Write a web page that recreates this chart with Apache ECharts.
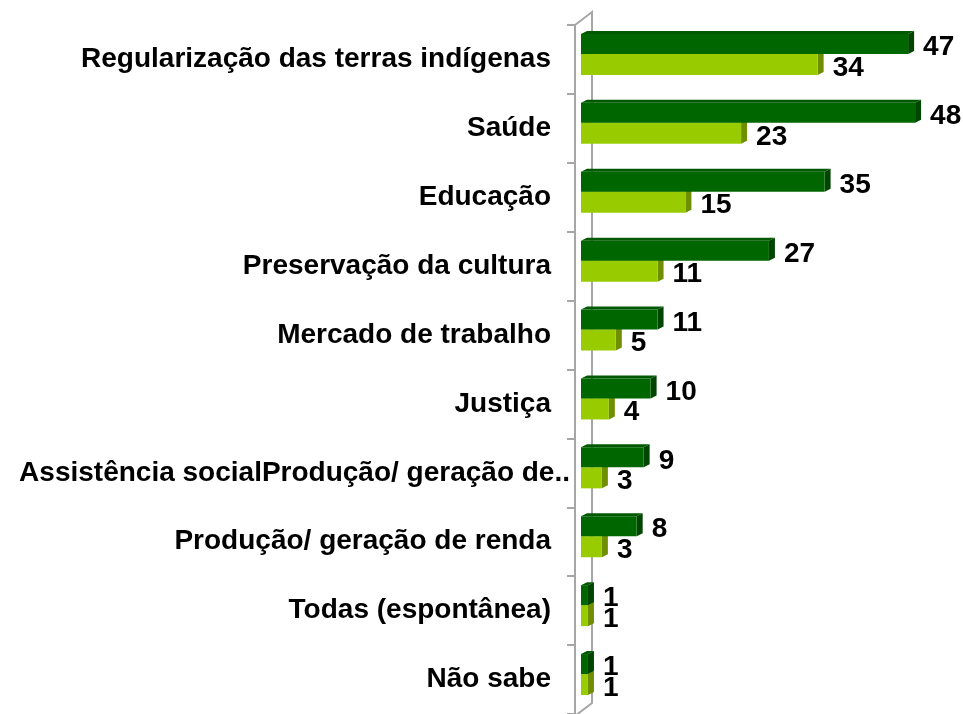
<!DOCTYPE html>
<html>
<head>
<meta charset="utf-8">
<script src="https://cdn.jsdelivr.net/npm/echarts@6/dist/echarts.min.js"></script>
<style>
  html, body { margin: 0; padding: 0; background: #fff; }
  #chart { width: 963px; height: 714px; }
</style>
</head>
<body>
<div id="chart"></div>
<script>
const categories = [
  "Regularização das terras indígenas",
  "Saúde",
  "Educação",
  "Preservação da cultura",
  "Mercado de trabalho",
  "Justiça",
  "Assistência socialProdução/ geração de..",
  "Produção/ geração de renda",
  "Todas (espontânea)",
  "Não sabe"
];
const darkValues = [47, 48, 35, 27, 11, 10, 9, 8, 1, 1];
const lightValues = [34, 23, 15, 11, 5, 4, 3, 3, 1, 1];

const GRID_LEFT = 575;
const GRID_TOP = 25;
const GRID_HEIGHT = 691;
const BAR_SHIFT = 6; // bars start a little right of the front wall line

const chart = echarts.init(document.getElementById("chart"));

// 3D-looking bar: front face, top face, right side, plus value label
function makeBarRenderer(colors, offsetY, height) {
  return function (params, api) {
    const value = api.value(0);
    const cat = api.value(1);
    const start = api.coord([0, cat]);
    const end = api.coord([value, cat]);
    const dx = 6, dy = -3;
    const x0 = start[0] + BAR_SHIFT;
    const x1 = end[0] + BAR_SHIFT;
    const y0 = start[1] + offsetY;
    const y1 = y0 + height;
    return {
      type: "group",
      children: [
        {
          type: "polygon",
          shape: { points: [[x0, y0], [x0 + dx, y0 + dy], [x1 + dx, y0 + dy], [x1, y0]] },
          style: { fill: colors.top }
        },
        {
          type: "polygon",
          shape: { points: [[x1, y0], [x1 + dx, y0 + dy], [x1 + dx, y1 + dy], [x1, y1]] },
          style: { fill: colors.side }
        },
        {
          type: "rect",
          shape: { x: x0, y: y0, width: x1 - x0, height: height },
          style: { fill: colors.front }
        },
        {
          type: "text",
          style: {
            text: String(value),
            x: x1 + dx + 9,
            y: y0 + height / 2 + 3.5,
            align: "left",
            verticalAlign: "middle",
            fill: "#000",
            font: "bold 28px Arial, 'Liberation Sans', sans-serif"
          }
        }
      ]
    };
  };
}

const yData = categories.map((name, i) => {
  if (i === 6) {
    return { value: name, textStyle: { padding: [0, -19, 0, 0] } };
  }
  return name;
});

chart.setOption({
  animation: false,
  grid: {
    left: GRID_LEFT,
    top: GRID_TOP,
    width: 348,
    height: GRID_HEIGHT
  },
  xAxis: {
    type: "value",
    min: 0,
    max: 50,
    show: false
  },
  yAxis: {
    type: "category",
    inverse: true,
    data: yData,
    axisLine: { show: true, lineStyle: { color: "#a6a6a6", width: 2 } },
    axisTick: {
      show: true,
      alignWithLabel: false,
      interval: 0,
      length: 8,
      lineStyle: { color: "#a6a6a6", width: 2 }
    },
    axisLabel: {
      interval: 0,
      margin: 24,
      color: "#000",
      fontSize: 28,
      fontWeight: "bold",
      fontFamily: "Arial, 'Liberation Sans', sans-serif"
    },
    splitLine: { show: false }
  },
  graphic: [
    {
      type: "polyline",
      z: -1,
      shape: {
        points: [
          [GRID_LEFT, GRID_TOP],
          [GRID_LEFT + 17, GRID_TOP - 13],
          [GRID_LEFT + 17, GRID_TOP + GRID_HEIGHT - 13],
          [GRID_LEFT, GRID_TOP + GRID_HEIGHT]
        ]
      },
      style: { stroke: "#a6a6a6", lineWidth: 2, fill: null }
    }
  ],
  series: [
    {
      type: "custom",
      name: "light",
      z: 2,
      encode: { x: 0, y: 1 },
      data: lightValues.map((v, i) => [v, i]),
      renderItem: makeBarRenderer({ front: "#99cc00", top: "#a8d41a", side: "#6f8f00" }, -5.5, 21)
    },
    {
      type: "custom",
      name: "dark",
      z: 3,
      encode: { x: 0, y: 1 },
      data: darkValues.map((v, i) => [v, i]),
      renderItem: makeBarRenderer({ front: "#006600", top: "#005800", side: "#004600" }, -25.5, 20)
    }
  ]
});
</script>
</body>
</html>
